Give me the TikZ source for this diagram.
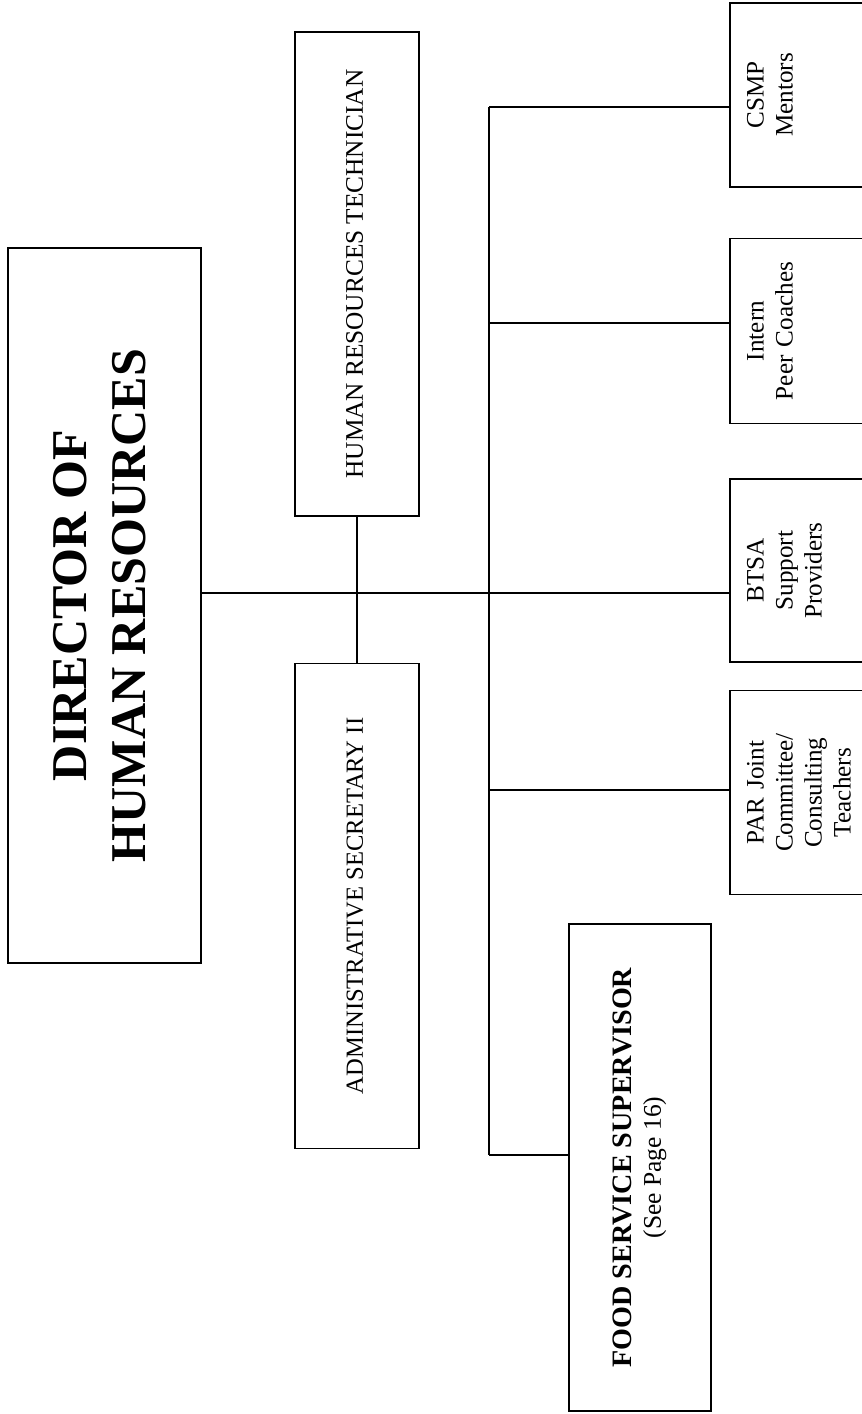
\documentclass[tikz,border=0pt]{standalone}
\usepackage{fontspec}
\setmainfont{Liberation Serif}
\usepackage{graphicx}
\usetikzlibrary{positioning,calc}

\newcommand{\vtext}[1]{\rotatebox{90}{\begin{tabular}{@{}c@{}}#1\end{tabular}}}

\begin{document}
\begin{tikzpicture}[x=0.02cm, y=-0.02cm, line width=0.9pt,
    box/.style={rectangle, draw, inner sep=0pt},
    side/.style={rectangle, draw, anchor=west, minimum width=3.6cm, inner xsep=0.27cm, text width=3.06cm, align=left, font=\fontsize{14.3}{16.5}\selectfont}]
    \useasboundingbox (0,0) rectangle (862,1414);
    \clip (0,0) rectangle (862,1414);

    \node (dir) [box, minimum width=3.86cm, minimum height=14.3cm, font=\fontsize{28.5}{33.5}\selectfont\bfseries] at (104.5,605.5) {\vtext{DIRECTOR OF\\HUMAN RESOURCES}};
    \node (hrt) [box, minimum width=2.48cm, minimum height=9.68cm, font=\fontsize{14.4}{17}\selectfont] at (357,274) {\vtext{HUMAN RESOURCES TECHNICIAN}};
    \node (adm) [box, below=2.92cm of hrt, minimum width=2.48cm, minimum height=9.7cm, font=\fontsize{14}{17}\selectfont] {\vtext{ADMINISTRATIVE SECRETARY II}};
    \node (food) [box, minimum width=2.84cm, minimum height=9.74cm, font=\fontsize{16}{17}\selectfont] at (640,1167.5) {\vtext{\bfseries FOOD SERVICE SUPERVISOR\\\fontsize{14.5}{17}\selectfont (See Page 16)}};

    \node (csmp) [side, minimum height=3.68cm] at (729,95) {\noindent\vtext{CSMP\\Mentors}};
    \node (intern) [side, below=1cm of csmp, minimum height=3.7cm] {\noindent\vtext{Intern\\Peer Coaches}};
    \node (btsa) [side, below=1.08cm of intern, minimum height=3.66cm] {\noindent\vtext{BTSA\\Support\\Providers}};
    \node (par) [side, below=0.54cm of btsa, minimum height=4.08cm] {\noindent\vtext{PAR Joint\\Committee/\\Consulting\\Teachers}};

    \coordinate (bustop) at (489,107);
    \coordinate (busint) at (489,323);
    \coordinate (hub) at (489,593);
    \coordinate (buspar) at (489,790);
    \coordinate (busbot) at (489,1155);

    \draw (hrt.south) -- (adm.north);
    \draw (dir.east |- hub) -- (hub -| btsa.west);
    \draw (bustop) -- (busbot);
    \foreach \c/\n in {bustop/csmp, busint/intern, buspar/par, busbot/food}
        \draw (\c) -- (\c -| \n.west);
\end{tikzpicture}
\end{document}
